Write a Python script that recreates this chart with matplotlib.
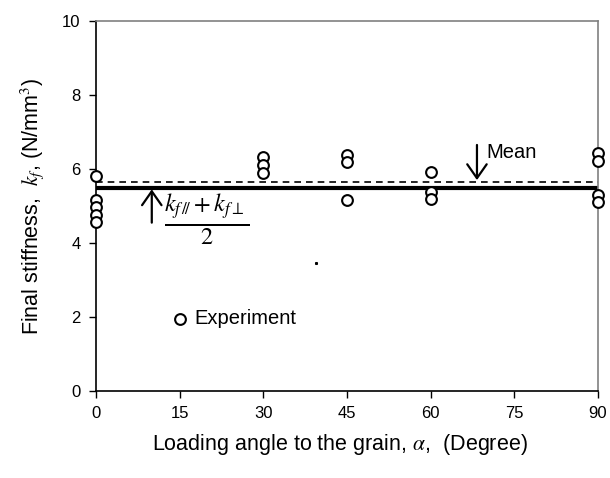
import matplotlib
matplotlib.use('Agg')
import matplotlib.pyplot as plt

# measured final stiffness per loading angle
angles = [0, 0, 0, 0, 0, 30, 30, 30, 45, 45, 45, 60, 60, 60, 90, 90, 90, 90]
stiffness = [5.82, 5.15, 4.98, 4.77, 4.56,
             6.33, 6.10, 5.90,
             6.38, 6.18, 5.16,
             5.93, 5.38, 5.20,
             6.42, 6.22, 5.30, 5.12]
line_x = [0, 90]
formula_value = 5.5   # (k_f// + k_f_perp) / 2
mean_value = 5.65
x_ticks = [0, 15, 30, 45, 60, 75, 90]
y_ticks = [0, 2, 4, 6, 8, 10]

plt.rcParams['font.family'] = ['Liberation Sans', 'DejaVu Sans']
plt.rcParams['mathtext.fontset'] = 'stix'

fig = plt.figure(figsize=(6.10, 4.78), dpi=100, facecolor='white')
ax = fig.add_axes([96 / 610, 1 - 391 / 478, 502 / 610, 370 / 478])

ax.plot(line_x, [formula_value, formula_value], color='black', linewidth=3, zorder=2)
ax.plot(line_x, [mean_value, mean_value], color='black', linewidth=1.2,
        linestyle=(0, (4, 3)), zorder=2)
ax.scatter(angles, stiffness, s=60, facecolors='white', edgecolors='black',
           linewidths=1.5, zorder=3, clip_on=False)

# legend-like label
ax.scatter([15.1], [1.95], s=60, facecolors='white', edgecolors='black',
           linewidths=1.5, zorder=3)
ax.text(17.6, 1.95, 'Experiment', fontsize=14.5, va='center', ha='left')

# stray dot
ax.plot([39.4], [3.46], marker='s', markersize=1.2, color='black')

# arrows
arrow = dict(arrowstyle='->,head_length=0.5,head_width=0.35', color='black', lw=1.6,
             mutation_scale=20, shrinkA=0, shrinkB=0)
ax.annotate('', xy=(10.0, 5.45), xytext=(10.0, 4.55), arrowprops=arrow)
ax.text(12.2, 4.66, r'$\frac{k_{f\,/\!/}+k_{f\perp}}{2}$', fontsize=25,
        va='center', ha='left')
ax.annotate('', xy=(68.3, 5.7), xytext=(68.3, 6.65), arrowprops=arrow)
ax.text(70.0, 6.45, 'Mean', fontsize=14.5, va='center', ha='left')

ax.set_xlim(0, 90)
ax.set_ylim(0, 10)
ax.set_xticks(x_ticks)
ax.set_yticks(y_ticks)
ax.tick_params(direction='out', length=5, width=1, labelsize=12, pad=6)
ax.spines['left'].set_color('black')
ax.spines['bottom'].set_color('black')
ax.spines['top'].set_color('#808080')
ax.spines['right'].set_color('#808080')
for s in ax.spines.values():
    s.set_linewidth(1.2)

ax.set_xlabel(r'Loading angle to the grain, $\alpha$,  (Degree)', fontsize=15.5)
ax.xaxis.set_label_coords(0.485, -0.11)
ax.set_ylabel(r'Final stiffness,  $k_f$, (N/mm$^3$)', fontsize=15.5, labelpad=12)

fig.savefig('out.png', dpi=100, facecolor='white')
